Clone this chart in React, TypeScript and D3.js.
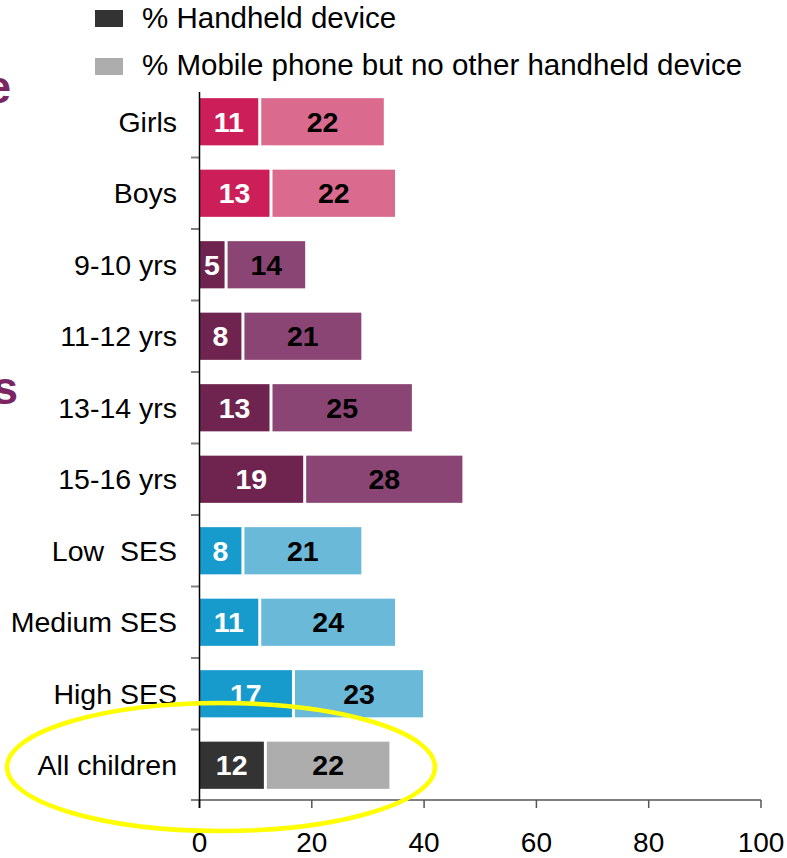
import React from "react";
import * as d3 from "d3";

const categories = ["Girls", "Boys", "9-10 yrs", "11-12 yrs", "13-14 yrs", "15-16 yrs", "Low  SES", "Medium SES", "High SES", "All children"];
const handheld = [11, 13, 5, 8, 13, 19, 8, 11, 17, 12];
const mobileOnly = [22, 22, 14, 21, 25, 28, 21, 24, 23, 22];
const groups = ["gender", "gender", "age", "age", "age", "age", "ses", "ses", "ses", "all"];
const xTicks = [0, 20, 40, 60, 80, 100];
const legendLabels = ["% Handheld device", "% Mobile phone but no other handheld device"];

const palette: Record<string, [string, string]> = {
  gender: ["#CC1F5A", "#DB6B8E"],
  age: ["#6E244E", "#8B4574"],
  ses: ["#179BCD", "#6AB9D9"],
  all: ["#333333", "#ADADAD"],
};

const FONT = "'Liberation Sans', Arial, sans-serif";

export default function App() {
  const W = 787, H = 858;
  const x = d3.scaleLinear().domain([0, 100]).range([199.5, 761]);
  const y = d3.scaleBand<string>().domain(categories).range([86, 801]).paddingInner(0.34).paddingOuter(0.17);
  const step = y.step();
  const bw = y.bandwidth();

  return (
    <svg width={W} height={H} style={{ position: "absolute", left: 0, top: 0 }} fontFamily={FONT}>
      <rect width={W} height={H} fill="#fff" />
      {/* partial headings at left edge */}
      <text x={11} y={103} textAnchor="end" fontSize={46} fontWeight="bold" fill="#7B2562">e</text>
      <text x={18} y={404} textAnchor="end" fontSize={46} fontWeight="bold" fill="#7B2562">s</text>

      {/* legend */}
      {legendLabels.map((l, i) => (
        <g key={l}>
          <rect x={95} y={10 + i * 48} width={28} height={17} fill={i === 0 ? "#333333" : "#ADADAD"} />
          <text x={142} y={28 + i * 47} fontSize={29.5} fill="#000">{l}</text>
        </g>
      ))}

      {/* bars */}
      {categories.map((c, i) => {
        const [c1, c2] = palette[groups[i]];
        const y0 = y(c)!;
        const a = handheld[i], b = mobileOnly[i];
        const x0 = x(0), x1 = x(a), x2 = x(a + b);
        const cy = y0 + bw / 2;
        return (
          <g key={c}>
            <rect x={x0} y={y0} width={x1 - x0 - 3} height={bw} fill={c1} />
            <rect x={x1} y={y0} width={x2 - x1 - 1} height={bw} fill={c2} />
            <text x={(x0 + x1 - 3) / 2} y={cy + 10} textAnchor="middle" fontSize={28.5} fontWeight="bold" fill="#fff">{a}</text>
            <text x={(x1 + x2 - 1) / 2} y={cy + 10} textAnchor="middle" fontSize={28.5} fontWeight="bold" fill="#000">{b}</text>
            <text x={177} y={cy + 10} textAnchor="end" fontSize={28.5} fill="#000" style={{ whiteSpace: "pre" }}>{c}</text>
          </g>
        );
      })}

      {/* y ticks at category boundaries */}
      {categories.slice(1).map((c) => {
        const yy = y(c)! - (step - bw) / 2;
        return <line key={c} x1={191} x2={199.5} y1={yy} y2={yy} stroke="#808080" strokeWidth={2} />;
      })}

      {/* x axis */}
      <line x1={191} x2={x(100)} y1={800} y2={800} stroke="#808080" strokeWidth={2} />
      {xTicks.map((t) => (
        <g key={t}>
          <line x1={x(t)} x2={x(t)} y1={800} y2={808} stroke={t === 0 ? "#000" : "#555"} strokeWidth={1.5} />
          <text x={x(t)} y={852} textAnchor="middle" fontSize={28} fill="#000">{t}</text>
        </g>
      ))}
      {/* y axis line */}
      <line x1={199.5} x2={199.5} y1={92} y2={808} stroke="#000" strokeWidth={1.5} />

      {/* highlight ellipse */}
      <ellipse cx={221} cy={767} rx={214} ry={64} fill="none" stroke="#FFFF00" strokeWidth={4.5} />
    </svg>
  );
}
